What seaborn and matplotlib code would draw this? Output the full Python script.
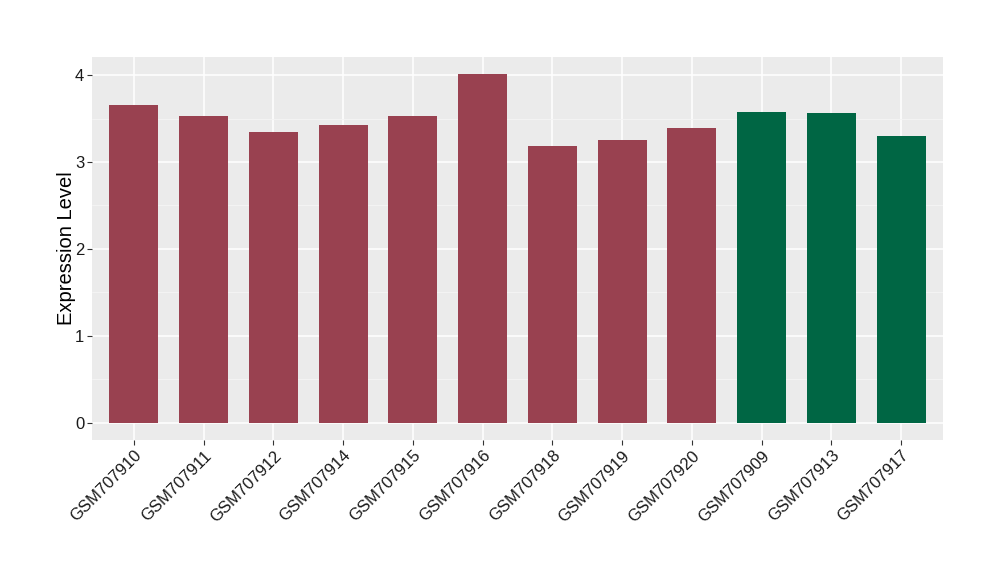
import matplotlib
matplotlib.use("Agg")
import matplotlib.pyplot as plt
import seaborn as sns
import pandas as pd
from matplotlib.ticker import MultipleLocator

samples = ["GSM707910", "GSM707911", "GSM707912", "GSM707914", "GSM707915",
           "GSM707916", "GSM707918", "GSM707919", "GSM707920",
           "GSM707909", "GSM707913", "GSM707917"]
values = [3.655, 3.53, 3.345, 3.425, 3.53, 4.01, 3.18, 3.25, 3.39,
          3.575, 3.563, 3.30]
groups = ["A"] * 9 + ["B"] * 3
palette = {"A": "#994150", "B": "#006644"}

df = pd.DataFrame({"sample": samples, "value": values, "group": groups})

sns.set_theme(style="darkgrid")
plt.rcParams['font.family'] = ['Liberation Sans', 'DejaVu Sans']

fig = plt.figure(figsize=(10, 5.8), dpi=100)
ax = fig.add_axes([0.092, 0.241, 0.851, 0.661])
ax.set_facecolor("#EBEBEB")

sns.barplot(data=df, x="sample", y="value", hue="group", palette=palette,
            order=samples, dodge=False, width=0.7, legend=False, ax=ax,
            saturation=1, linewidth=0, edgecolor="none")

ax.set_xlim(-0.6, len(samples) - 0.4)
ax.set_ylim(-0.2, 4.21)
ax.yaxis.set_major_locator(MultipleLocator(1))
ax.yaxis.set_minor_locator(MultipleLocator(0.5))
ax.grid(which="major", color="white", linewidth=1.1)
ax.grid(which="minor", axis="y", color="#F5F5F5", linewidth=0.6)
ax.set_axisbelow(True)
for s in ax.spines.values():
    s.set_visible(False)

ax.set_xlabel("")
ax.set_ylabel("Expression Level", fontsize=14.5, color="black", labelpad=-1)
ax.tick_params(axis="both", which="major", length=3.5, width=0.8,
               color="#333333", labelsize=12, labelcolor="#1a1a1a", pad=2,
               bottom=True, left=True)
ax.tick_params(axis="y", which="minor", length=0, left=False)
plt.setp(ax.get_xticklabels(), rotation=45, ha="right", rotation_mode="anchor")

fig.savefig("out.png", dpi=100)
